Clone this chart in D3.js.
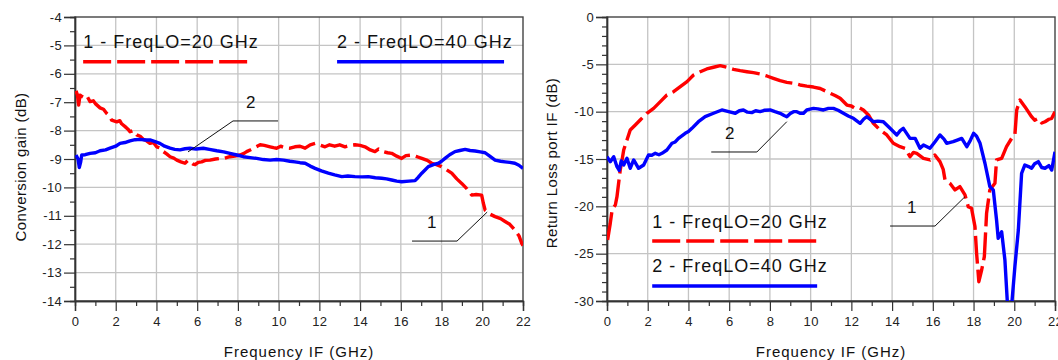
<!DOCTYPE html>
<html>
<head>
<meta charset="utf-8">
<script src="https://cdn.jsdelivr.net/npm/d3@7"></script>
<style>
  body { margin: 0; background: #fff; }
  svg { display: block; font-family: "Liberation Sans", Arial, sans-serif; }
</style>
</head>
<body>
<script>
// frequency axis ticks (GHz)
var freqMajor = [0, 2, 4, 6, 8, 10, 12, 14, 16, 18, 20, 22];
var freqMinor = [1, 3, 5, 7, 9, 11, 13, 15, 17, 19, 21];

// left panel: conversion gain ticks (dB)
var gainMajor = [-4, -5, -6, -7, -8, -9, -10, -11, -12, -13, -14];
var gainMinor = [-4.5, -5.5, -6.5, -7.5, -8.5, -9.5, -10.5, -11.5, -12.5, -13.5];

// right panel: return loss ticks (dB)
var rlMajor = [0, -5, -10, -15, -20, -25, -30];
var rlMinor = [-1, -2, -3, -4, -6, -7, -8, -9, -11, -12, -13, -14, -16, -17, -18, -19,
  -21, -22, -23, -24, -26, -27, -28, -29];

var legendLabels = ["1 - FreqLO=20 GHz", "2 - FreqLO=40 GHz"];

// conversion gain, FreqLO = 20 GHz  [f GHz, dB]
var gainLO20 = [[0.05,-6.6],[0.12,-6.75],[0.18,-7.1],[0.25,-6.75],[0.35,-6.8],[0.5,-6.86],[0.6,-6.8],
  [0.74,-6.98],[0.9,-6.95],[1.0,-7.05],[1.23,-7.2],[1.4,-7.25],[1.56,-7.4],[1.7,-7.5],[1.8,-7.63],
  [2.05,-7.69],[2.2,-7.65],[2.29,-7.76],[2.46,-7.86],[2.6,-7.95],[2.7,-8.04],[2.85,-8.0],[3.03,-8.15],
  [3.2,-8.2],[3.36,-8.31],[3.5,-8.35],[3.68,-8.45],[3.85,-8.42],[4.01,-8.57],[4.2,-8.62],[4.34,-8.74],
  [4.5,-8.82],[4.67,-8.92],[4.85,-8.97],[5.0,-9.04],[5.2,-9.1],[5.4,-9.15],[5.55,-9.05],[5.65,-9.1],
  [5.8,-9.18],[5.9,-9.2],[6.05,-9.12],[6.22,-9.1],[6.4,-9.05],[6.63,-9.04],[6.9,-9.0],[7.12,-8.98],
  [7.35,-8.97],[7.6,-8.92],[7.85,-8.9],[8.1,-8.86],[8.3,-8.8],[8.43,-8.74],[8.6,-8.68],[8.76,-8.62],
  [8.95,-8.55],[9.09,-8.5],[9.3,-8.52],[9.58,-8.57],[9.75,-8.6],[9.9,-8.62],[10.1,-8.55],[10.3,-8.6],
  [10.56,-8.62],[10.8,-8.57],[11.05,-8.55],[11.3,-8.62],[11.55,-8.5],[11.79,-8.45],[12.0,-8.5],
  [12.28,-8.57],[12.5,-8.5],[12.75,-8.55],[13.0,-8.5],[13.26,-8.57],[13.5,-8.52],[13.75,-8.5],
  [14.0,-8.52],[14.24,-8.57],[14.5,-8.68],[14.73,-8.74],[14.9,-8.65],[15.14,-8.74],[15.35,-8.78],
  [15.55,-8.8],[15.8,-8.9],[16.04,-8.98],[16.25,-8.88],[16.54,-8.86],[16.8,-8.92],[17.03,-8.98],
  [17.3,-9.05],[17.52,-9.15],[17.75,-9.2],[18.0,-9.27],[18.25,-9.38],[18.5,-9.5],[18.75,-9.7],
  [18.99,-9.86],[19.25,-10.05],[19.48,-10.27],[19.7,-10.25],[19.97,-10.27],[20.05,-10.55],[20.14,-10.8],
  [20.4,-10.95],[20.63,-11.03],[20.9,-11.1],[21.12,-11.2],[21.35,-11.3],[21.6,-11.5],[21.8,-11.7],
  [21.94,-11.97],[22.0,-12.05]];

// conversion gain, FreqLO = 40 GHz
var gainLO40 = [[0.05,-8.86],[0.15,-9.0],[0.21,-9.3],[0.28,-9.1],[0.33,-8.86],[0.5,-8.85],[0.74,-8.8],
  [1.0,-8.78],[1.23,-8.71],[1.5,-8.68],[1.72,-8.62],[2.0,-8.55],[2.21,-8.45],[2.45,-8.42],[2.7,-8.36],
  [2.95,-8.32],[3.19,-8.31],[3.45,-8.33],[3.68,-8.33],[3.9,-8.38],[4.17,-8.45],[4.4,-8.55],[4.67,-8.62],
  [4.9,-8.66],[5.16,-8.68],[5.4,-8.64],[5.65,-8.62],[5.95,-8.65],[6.3,-8.62],[6.6,-8.66],[6.96,-8.71],
  [7.3,-8.75],[7.61,-8.8],[7.95,-8.86],[8.27,-8.92],[8.6,-8.95],[8.92,-8.98],[9.25,-9.02],[9.58,-9.04],
  [9.9,-9.02],[10.24,-9.04],[10.55,-9.08],[10.8,-9.1],[11.05,-9.13],[11.3,-9.15],[11.55,-9.25],
  [11.79,-9.33],[12.1,-9.42],[12.44,-9.5],[12.75,-9.56],[13.1,-9.62],[13.4,-9.6],[13.75,-9.62],
  [14.1,-9.63],[14.4,-9.62],[14.75,-9.66],[15.06,-9.68],[15.3,-9.7],[15.55,-9.74],[15.8,-9.78],
  [16.04,-9.8],[16.4,-9.78],[16.7,-9.76],[16.85,-9.65],[17.03,-9.5],[17.2,-9.38],[17.35,-9.27],
  [17.6,-9.2],[17.85,-9.15],[18.0,-9.08],[18.17,-8.98],[18.4,-8.85],[18.66,-8.74],[18.9,-8.7],
  [19.16,-8.66],[19.4,-8.7],[19.65,-8.72],[19.9,-8.75],[20.14,-8.78],[20.4,-8.92],[20.63,-9.04],
  [20.9,-9.08],[21.12,-9.1],[21.35,-9.12],[21.6,-9.15],[21.8,-9.22],[22.0,-9.33]];

// return loss port IF, FreqLO = 20 GHz
var rlLO20 = [[0.03,-23.55],[0.1,-22.6],[0.16,-21.8],[0.25,-20.4],[0.33,-20.1],[0.41,-19.86],
  [0.49,-18.98],[0.57,-17.57],[0.65,-16.16],[0.74,-15.1],[0.82,-14.05],[0.98,-13.0],[1.14,-11.94],
  [1.39,-11.41],[1.63,-10.88],[1.96,-10.17],[2.29,-9.65],[2.62,-8.94],[2.94,-8.24],[3.27,-7.89],
  [3.6,-7.36],[3.93,-6.83],[4.25,-6.13],[4.58,-5.78],[4.9,-5.49],[5.23,-5.31],[5.56,-5.14],[5.89,-5.31],
  [6.21,-5.53],[6.54,-5.67],[6.87,-5.78],[7.19,-5.88],[7.52,-6.02],[7.85,-6.23],[8.17,-6.48],[8.5,-6.73],
  [8.83,-6.9],[9.16,-7.0],[9.48,-7.18],[9.81,-7.3],[10.14,-7.4],[10.47,-7.55],[10.96,-8.06],[11.2,-8.3],
  [11.45,-8.59],[11.78,-9.3],[12.0,-9.4],[12.18,-9.65],[12.4,-9.6],[12.59,-9.82],[12.84,-10.35],
  [13.08,-11.23],[13.41,-11.94],[13.74,-12.46],[14.06,-13.34],[14.39,-13.7],[14.64,-13.87],
  [14.88,-14.76],[15.05,-14.3],[15.21,-14.4],[15.54,-14.93],[15.86,-15.1],[16.1,-14.58],[16.35,-15.28],
  [16.51,-16.1],[16.6,-17.22],[16.84,-17.57],[17.09,-18.27],[17.33,-17.92],[17.58,-18.8],[17.74,-20.04],
  [17.9,-20.2],[18.07,-22.15],[18.15,-24.96],[18.26,-27.96],[18.4,-26.7],[18.53,-25.32],[18.64,-20.74],
  [18.8,-18.27],[19.05,-17.57],[19.13,-15.1],[19.38,-14.93],[19.62,-13.7],[19.87,-12.82],[20.03,-12.46],
  [20.12,-9.82],[20.28,-8.77],[20.52,-9.47],[20.85,-10.53],[21.0,-10.9],[21.18,-10.7],[21.35,-11.2],
  [21.51,-11.06],[21.7,-10.8],[21.84,-10.7],[22.0,-10.0]];

// return loss port IF, FreqLO = 40 GHz
var rlLO40 = [[0.0,-14.76],[0.16,-15.28],[0.33,-14.76],[0.49,-15.81],[0.6,-16.2],[0.7,-15.2],
  [0.82,-15.63],[0.98,-14.93],[1.14,-15.98],[1.31,-15.1],[1.55,-15.98],[1.8,-15.63],[2.04,-14.58],
  [2.2,-14.6],[2.37,-14.4],[2.55,-14.55],[2.7,-14.4],[2.94,-14.05],[3.19,-13.34],[3.35,-13.2],
  [3.51,-12.82],[3.84,-12.29],[4.0,-12.1],[4.17,-11.76],[4.49,-11.06],[4.82,-10.53],[5.23,-10.17],
  [5.64,-9.82],[5.97,-10.0],[6.3,-10.17],[6.5,-9.9],[6.7,-9.82],[6.9,-10.05],[7.11,-10.1],[7.3,-9.9],
  [7.52,-10.0],[7.75,-9.85],[8.01,-9.82],[8.25,-10.0],[8.5,-10.17],[8.7,-10.4],[8.83,-10.53],[9.0,-10.2],
  [9.16,-10.0],[9.32,-10.0],[9.48,-10.17],[9.65,-10.17],[9.81,-9.82],[10.14,-9.65],[10.35,-9.7],
  [10.63,-9.82],[10.87,-9.65],[11.12,-9.65],[11.35,-9.85],[11.61,-10.17],[11.85,-10.45],[12.1,-10.7],
  [12.43,-11.23],[12.6,-10.8],[12.75,-10.53],[13.08,-11.06],[13.3,-11.0],[13.57,-11.06],[13.9,-11.76],
  [14.23,-12.46],[14.4,-12.0],[14.55,-11.76],[14.88,-12.82],[15.13,-12.82],[15.37,-13.87],[15.54,-13.52],
  [15.86,-13.87],[16.11,-13.17],[16.35,-12.46],[16.55,-12.9],[16.68,-13.34],[17.0,-13.17],[17.2,-13.0],
  [17.42,-12.82],[17.67,-13.7],[17.85,-13.0],[18.0,-12.29],[18.15,-12.6],[18.32,-13.34],[18.56,-15.45],
  [18.8,-17.92],[18.97,-18.27],[19.13,-21.44],[19.21,-23.38],[19.38,-22.68],[19.54,-25.67],[19.67,-30.5],
  [19.87,-30.5],[20.03,-26.37],[20.2,-22.5],[20.36,-16.51],[20.52,-15.63],[20.7,-15.8],[20.85,-15.98],
  [21.0,-15.5],[21.18,-15.28],[21.35,-15.9],[21.51,-15.98],[21.7,-15.7],[21.84,-16.16],[22.0,-14.23]];

var w = 1058;
var h = 360;
var top_ = 17, bottom = 301;
var red = "#ff0000", blue = "#0000ff";
var dash = "28,6";

var svg = d3.select("body").append("svg").attr("width", w).attr("height", h);

function drawPanel(p) {
  var x = d3.scaleLinear().domain([0, 22]).range([p.left, p.right]);
  var y = d3.scaleLinear().domain(p.yDomain).range([bottom, top_]);
  var g = svg.append("g");

  // 网格线
  g.selectAll(".vgrid").data(freqMajor.slice(1, -1)).enter().append("line")
    .attr("x1", function (d) { return x(d); }).attr("x2", function (d) { return x(d); })
    .attr("y1", top_).attr("y2", bottom)
    .attr("stroke", "#c4c4c4").attr("stroke-width", 1.3);
  g.selectAll(".hgrid").data(p.yMajor.filter(function (d) {
      return d !== p.yDomain[0] && d !== p.yDomain[1];
    })).enter().append("line")
    .attr("x1", p.left).attr("x2", p.right)
    .attr("y1", function (d) { return y(d); }).attr("y2", function (d) { return y(d); })
    .attr("stroke", "#c4c4c4").attr("stroke-width", 1.3);

  // 外框
  g.append("rect").attr("x", p.left).attr("y", top_)
    .attr("width", p.right - p.left).attr("height", bottom - top_)
    .attr("fill", "none").attr("stroke", "#444").attr("stroke-width", 1.4);

  // 坐标轴
  var fmt = function (d) { return String(d); };
  var xAx = g.append("g").attr("transform", "translate(0," + bottom + ")")
    .call(d3.axisBottom(x).tickValues(freqMajor).tickSize(10).tickPadding(6).tickFormat(fmt));
  var xMin = g.append("g").attr("transform", "translate(0," + bottom + ")")
    .call(d3.axisBottom(x).tickValues(freqMinor).tickSize(5).tickFormat(""));
  var yAx = g.append("g").attr("transform", "translate(" + p.left + ",0)")
    .call(d3.axisLeft(y).tickValues(p.yMajor).tickSize(11).tickPadding(2).tickFormat(fmt));
  var yMin = g.append("g").attr("transform", "translate(" + p.left + ",0)")
    .call(d3.axisLeft(y).tickValues(p.yMinor).tickSize(5).tickFormat(""));
  [xAx, xMin, yAx, yMin].forEach(function (a) {
    a.select(".domain").attr("stroke", "#333").attr("stroke-width", 1.4);
    a.selectAll(".tick line").attr("stroke", "#333").attr("stroke-width", 1.2);
    a.selectAll("text").attr("font-family", "Liberation Sans, Arial, sans-serif")
      .attr("font-size", 13).attr("letter-spacing", 0.3).attr("fill", "#222");
  });

  // 曲线
  var clipId = "clip" + p.left;
  svg.append("clipPath").attr("id", clipId).append("rect")
    .attr("x", p.left).attr("y", top_).attr("width", p.right - p.left).attr("height", bottom - top_);
  var line = d3.line().x(function (d) { return x(d[0]); }).y(function (d) { return y(d[1]); });
  p.series.forEach(function (s) {
    g.append("path").datum(s.data)
      .attr("clip-path", "url(#" + clipId + ")")
      .attr("d", line).attr("fill", "none")
      .attr("stroke", s.color).attr("stroke-width", 3.4)
      .attr("stroke-linejoin", "round")
      .attr("stroke-dasharray", s.dash || null);
  });

  // 图例
  p.legend.forEach(function (l, i) {
    g.append("text").attr("x", x(l.f0)).attr("y", y(l.vText))
      .attr("font-size", 18).attr("letter-spacing", 1).attr("fill", "#111").text(legendLabels[i]);
    g.append("line").attr("x1", x(l.f0)).attr("x2", x(l.f1))
      .attr("y1", y(l.vLine)).attr("y2", y(l.vLine))
      .attr("stroke", p.series[i].color).attr("stroke-width", 3.5)
      .attr("stroke-dasharray", p.series[i].dash || null);
  });

  // 标注
  p.notes.forEach(function (n) {
    g.append("polyline")
      .attr("points", n.pts.map(function (q) { return x(q[0]) + "," + y(q[1]); }).join(" "))
      .attr("fill", "none").attr("stroke", "#111").attr("stroke-width", 1);
    g.append("text").attr("x", x(n.at[0])).attr("y", y(n.at[1]))
      .attr("font-size", 17).attr("fill", "#111").text(n.label);
  });

  // 轴标题
  g.append("text").attr("x", (p.left + p.right) / 2).attr("y", 357)
    .attr("text-anchor", "middle").attr("font-size", 15).attr("letter-spacing", 1)
    .attr("fill", "#111").text("Frequency IF (GHz)");
  g.append("text").attr("transform", "translate(" + p.titleX + "," + p.titleY + ") rotate(-90)")
    .attr("text-anchor", "middle").attr("font-size", 15).attr("letter-spacing", 0.4)
    .attr("fill", "#111").text(p.yTitle);
}

drawPanel({
  left: 75, right: 523, yDomain: [-14, -4],
  yMajor: gainMajor, yMinor: gainMinor,
  yTitle: "Conversion gain (dB)", titleX: 26, titleY: 167,
  series: [{ data: gainLO20, color: red, dash: dash }, { data: gainLO40, color: blue }],
  legend: [{ f0: 0.4, f1: 8.6, vText: -5.09, vLine: -5.58 },
           { f0: 12.87, f1: 21.07, vText: -5.09, vLine: -5.58 }],
  notes: [{ label: "2", at: [8.4, -7.2], pts: [[5.55, -8.75], [7.76, -7.66], [9.97, -7.66]] },
          { label: "1", at: [17.29, -11.43], pts: [[16.55, -11.89], [18.76, -11.89], [20.24, -10.87]] }]
});

drawPanel({
  left: 607, right: 1055, yDomain: [-30, 0],
  yMajor: rlMajor, yMinor: rlMinor,
  yTitle: "Return Loss port IF (dB)", titleX: 557, titleY: 163,
  series: [{ data: rlLO20, color: red, dash: dash }, { data: rlLO40, color: blue }],
  legend: [{ f0: 2.22, f1: 10.32, vText: -22.29, vLine: -23.66 },
           { f0: 2.22, f1: 10.32, vText: -26.94, vLine: -28.41 }],
  notes: [{ label: "2", at: [5.8, -12.89], pts: [[5.12, -14.26], [7.36, -14.26], [8.83, -11.06]] },
          { label: "1", at: [14.73, -20.7], pts: [[13.9, -22.08], [16.11, -22.08], [17.58, -18.98]] }]
});
</script>
</body>
</html>
